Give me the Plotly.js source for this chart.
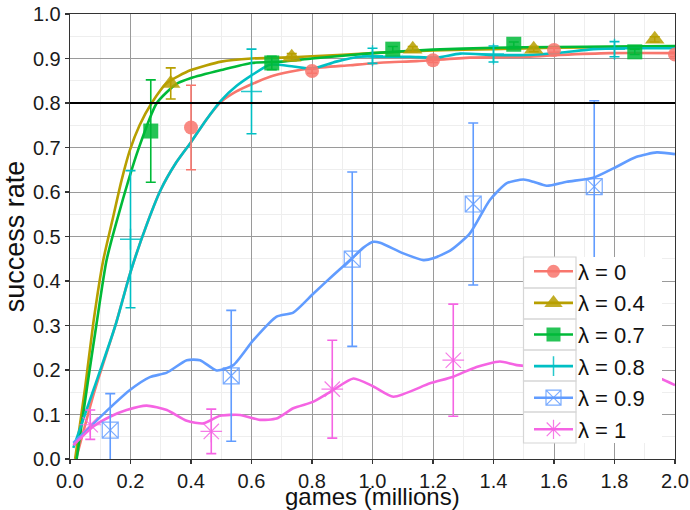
<!DOCTYPE html>
<html>
<head>
<meta charset="utf-8">
<script src="https://cdn.plot.ly/plotly-3.0.1.min.js"></script>
<style>html,body{margin:0;padding:0;background:#fff;}</style>
</head>
<body>
<div id="chart" style="width:690px;height:510px;"></div>
<script>
// ---- data ----
const seriesNames = ['λ = 0', 'λ = 0.4', 'λ = 0.7', 'λ = 0.8', 'λ = 0.9', 'λ = 1'];
const seriesColors = ['#F8766D', '#B79F00', '#00BA38', '#00BFC4', '#619CFF', '#F564E3'];
const xTitle = 'games (millions)';
const yTitle = 'success rate';

// smoothed curves
const lam0_cx = [0.02, 0.08, 0.15, 0.2, 0.25, 0.3, 0.35, 0.4, 0.45, 0.5, 0.55, 0.6, 0.661, 0.727, 0.8, 0.926, 1.036, 1.146, 1.322, 1.51, 1.62, 1.785, 2.0];
const lam0_cy = [0.0, 0.15, 0.3, 0.42, 0.52, 0.605, 0.665, 0.712, 0.762, 0.803, 0.826, 0.842, 0.859, 0.87, 0.878, 0.885, 0.891, 0.894, 0.902, 0.904, 0.908, 0.912, 0.912];

const lam04_cx = [0.017, 0.05, 0.077, 0.11, 0.143, 0.17, 0.198, 0.23, 0.27, 0.32, 0.4, 0.5, 0.6, 0.7, 0.8, 1.0, 1.2, 1.4, 1.6, 1.8, 2.0];
const lam04_cy = [0.0, 0.16, 0.305, 0.447, 0.545, 0.625, 0.694, 0.75, 0.8, 0.845, 0.874, 0.893, 0.9, 0.902, 0.905, 0.912, 0.918, 0.921, 0.924, 0.926, 0.927];

const lam07_cx = [0.022, 0.055, 0.088, 0.121, 0.165, 0.225, 0.287, 0.35, 0.4, 0.5, 0.6, 0.7, 0.8, 1.0, 1.2, 1.4, 1.6, 1.8, 2.0];
const lam07_cy = [0.0, 0.155, 0.305, 0.447, 0.56, 0.694, 0.8, 0.842, 0.856, 0.874, 0.89, 0.893, 0.9, 0.912, 0.92, 0.924, 0.926, 0.927, 0.928];

const lam08_cx = [0.011, 0.08, 0.15, 0.2, 0.25, 0.3, 0.35, 0.4, 0.45, 0.5, 0.55, 0.6, 0.661, 0.738, 0.8, 0.88, 0.959, 1.036, 1.124, 1.212, 1.29, 1.4, 1.51, 1.62, 1.73, 1.84, 2.0];
const lam08_cy = [0.025, 0.16, 0.3, 0.42, 0.52, 0.605, 0.665, 0.712, 0.762, 0.806, 0.838, 0.862, 0.886, 0.882, 0.877, 0.893, 0.904, 0.904, 0.904, 0.902, 0.911, 0.908, 0.908, 0.913, 0.921, 0.923, 0.923];

const lam09_cx = [0.011, 0.132, 0.198, 0.264, 0.32, 0.386, 0.43, 0.485, 0.54, 0.606, 0.683, 0.738, 0.805, 0.87, 0.926, 0.97, 1.003, 1.025, 1.102, 1.168, 1.201, 1.26, 1.322, 1.388, 1.444, 1.499, 1.532, 1.576, 1.642, 1.73, 1.796, 1.873, 1.94, 2.0];
const lam09_cy = [0.036, 0.115, 0.155, 0.184, 0.194, 0.222, 0.222, 0.199, 0.211, 0.267, 0.32, 0.329, 0.372, 0.413, 0.447, 0.475, 0.488, 0.486, 0.462, 0.447, 0.451, 0.47, 0.507, 0.582, 0.62, 0.628, 0.623, 0.614, 0.623, 0.632, 0.653, 0.679, 0.689, 0.685];

const lam1_cx = [0.011, 0.077, 0.132, 0.187, 0.253, 0.32, 0.386, 0.441, 0.496, 0.562, 0.628, 0.683, 0.738, 0.805, 0.87, 0.937, 1.003, 1.069, 1.19, 1.267, 1.344, 1.421, 1.477, 1.6, 1.8, 1.95, 2.0];
const lam1_cy = [0.031, 0.073, 0.095, 0.11, 0.12, 0.11, 0.086, 0.08, 0.097, 0.099, 0.088, 0.091, 0.114, 0.129, 0.155, 0.181, 0.163, 0.14, 0.17, 0.185, 0.207, 0.219, 0.211, 0.205, 0.2, 0.181, 0.166];

// measured points with error bars
const lam0_mx = [0.4, 0.8, 1.2, 1.6, 2.0];
const lam0_my = [0.745, 0.872, 0.896, 0.919, 0.909];
const lam0_me = [0.095, 0.005, 0.005, 0.005, 0.005];

const lam04_mx = [0.333, 0.733, 1.133, 1.533, 1.933];
const lam04_my = [0.844, 0.903, 0.921, 0.921, 0.943];
const lam04_me = [0.035, 0.008, 0.006, 0.006, 0.006];

const lam07_mx = [0.267, 0.667, 1.067, 1.467, 1.867];
const lam07_my = [0.737, 0.89, 0.921, 0.932, 0.915];
const lam07_me = [0.115, 0.015, 0.006, 0.005, 0.006];

const lam08_mx = [0.2, 0.6, 1.0, 1.4, 1.8];
const lam08_my = [0.494, 0.826, 0.906, 0.91, 0.921];
const lam08_me = [0.154, 0.095, 0.017, 0.018, 0.017];

const lam09_mx = [0.133, 0.533, 0.933, 1.333, 1.733];
const lam09_my = [0.065, 0.187, 0.449, 0.573, 0.612];
const lam09_me = [0.082, 0.147, 0.196, 0.182, 0.193];

const lam1_mx = [0.067, 0.467, 0.867, 1.267];
const lam1_my = [0.077, 0.062, 0.157, 0.222];
const lam1_me = [0.033, 0.05, 0.11, 0.126];

const xTicks = [0, 0.2, 0.4, 0.6, 0.8, 1.0, 1.2, 1.4, 1.6, 1.8, 2.0];
const yTicks = [0, 0.1, 0.2, 0.3, 0.4, 0.5, 0.6, 0.7, 0.8, 0.9, 1.0];
const threshold = 0.8;

// ---- styling ----
const curves = [[lam0_cx, lam0_cy], [lam04_cx, lam04_cy], [lam07_cx, lam07_cy], [lam08_cx, lam08_cy], [lam09_cx, lam09_cy], [lam1_cx, lam1_cy]];
const points = [[lam0_mx, lam0_my, lam0_me], [lam04_mx, lam04_my, lam04_me], [lam07_mx, lam07_my, lam07_me], [lam08_mx, lam08_my, lam08_me], [lam09_mx, lam09_my, lam09_me], [lam1_mx, lam1_my, lam1_me]];
const symbols = ['circle', 'triangle-up', 'square', 'cross-thin-open', 'square-x-open', 'asterisk-open'];
const sizes = [14, 17, 15, 15, 16, 18];
const lineW = [0, 0, 0, 1.5, 1.2, 1.2];

const traces = [];
for (let i = 0; i < 6; i++) {
  traces.push({
    type: 'scatter', mode: 'lines', x: curves[i][0], y: curves[i][1],
    line: {color: seriesColors[i], width: 2.6, shape: 'spline', smoothing: 0.6},
    showlegend: false, hoverinfo: 'skip'
  });
}
for (let i = 0; i < 6; i++) {
  traces.push({
    type: 'scatter', mode: 'markers', x: points[i][0], y: points[i][1],
    error_y: {type: 'data', array: points[i][2], visible: true, color: seriesColors[i], thickness: 1.6, width: 5},
    marker: {symbol: symbols[i], size: sizes[i], color: seriesColors[i], opacity: 0.85,
             line: {color: seriesColors[i], width: lineW[i]}},
    showlegend: false, cliponaxis: true
  });
}
for (let i = 0; i < 6; i++) {
  traces.push({
    type: 'scatter', mode: 'lines+markers', x: [null], y: [null], name: seriesNames[i],
    line: {color: seriesColors[i], width: 2.6},
    marker: {symbol: symbols[i], size: sizes[i] - 1, color: seriesColors[i], opacity: 0.85,
             line: {color: seriesColors[i], width: lineW[i]}},
    showlegend: true
  });
}

// legend frame (plot-area fractions)
const plotL = 70, plotR = 675, plotT = 14, plotB = 459;
const px2x = p => (p - plotL) / (plotR - plotL);
const px2y = p => (plotB - p) / (plotB - plotT);
const legL = 523, legR = 662, legT = 257, keyR = 576, rowH = 31;

const shapes = [{type: 'line', xref: 'paper', x0: 0, x1: 1, yref: 'y', y0: threshold, y1: threshold,
                 line: {color: '#000', width: 2}, layer: 'above'},
                {type: 'rect', xref: 'paper', yref: 'paper', x0: px2x(legL), x1: px2x(legR),
                 y0: px2y(legT + 6 * rowH), y1: px2y(legT), fillcolor: '#ffffff', line: {width: 0}, layer: 'above'}];
for (let i = 0; i < 6; i++) {
  shapes.push({type: 'rect', xref: 'paper', yref: 'paper', x0: px2x(legL + 0.5), x1: px2x(keyR),
               y0: px2y(legT + (i + 1) * rowH), y1: px2y(legT + i * rowH),
               fillcolor: 'rgba(0,0,0,0)', line: {color: '#d6d6d6', width: 1.2}, layer: 'above'});
}

const font = 'Liberation Sans, Arial, Helvetica, sans-serif';
const layout = {
  width: 690, height: 510,
  margin: {l: plotL, r: 690 - plotR, t: plotT, b: 510 - plotB},
  paper_bgcolor: '#ffffff', plot_bgcolor: '#ffffff',
  font: {family: font, color: '#1a1a1a'},
  showlegend: true,
  legend: {x: px2x(529), y: px2y(250.5), xanchor: 'left', yanchor: 'top',
           bgcolor: 'rgba(0,0,0,0)', borderwidth: 0, font: {size: 22, family: font, color: '#111'},
           tracegroupgap: 0, itemwidth: 39},
  xaxis: {
    range: [0, 2.0], tickvals: xTicks, tickformat: '.1f',
    showline: true, linecolor: '#333', linewidth: 1.3, mirror: true,
    ticks: 'outside', ticklen: 4, tickcolor: '#333', tickwidth: 1.2,
    showgrid: true, gridcolor: '#9a9a9a', gridwidth: 1,
    minor: {dtick: 0.1, showgrid: true, gridcolor: '#eeeeee', gridwidth: 1, ticks: ''},
    zeroline: false, tickfont: {size: 20, color: '#1a1a1a'},
    automargin: false
  },
  yaxis: {
    range: [0, 1.0], tickvals: yTicks, tickformat: '.1f',
    showline: true, linecolor: '#333', linewidth: 1.3, mirror: true,
    ticks: 'outside', ticklen: 4, tickcolor: '#333', tickwidth: 1.2,
    showgrid: true, gridcolor: '#9a9a9a', gridwidth: 1,
    minor: {dtick: 0.05, showgrid: true, gridcolor: '#eeeeee', gridwidth: 1, ticks: ''},
    zeroline: false, tickfont: {size: 20, color: '#1a1a1a'},
    title: {text: yTitle, font: {size: 27, color: '#111'}, standoff: 4},
    automargin: false
  },
  annotations: [{text: xTitle, xref: 'paper', yref: 'paper', x: 0.5, y: px2y(511),
                 xanchor: 'center', yanchor: 'bottom', showarrow: false, borderpad: 0,
                 font: {size: 24, color: '#111', family: font}}],
  shapes: shapes
};

Plotly.newPlot('chart', traces, layout, {displayModeBar: false, staticPlot: true});
</script>
</body>
</html>
